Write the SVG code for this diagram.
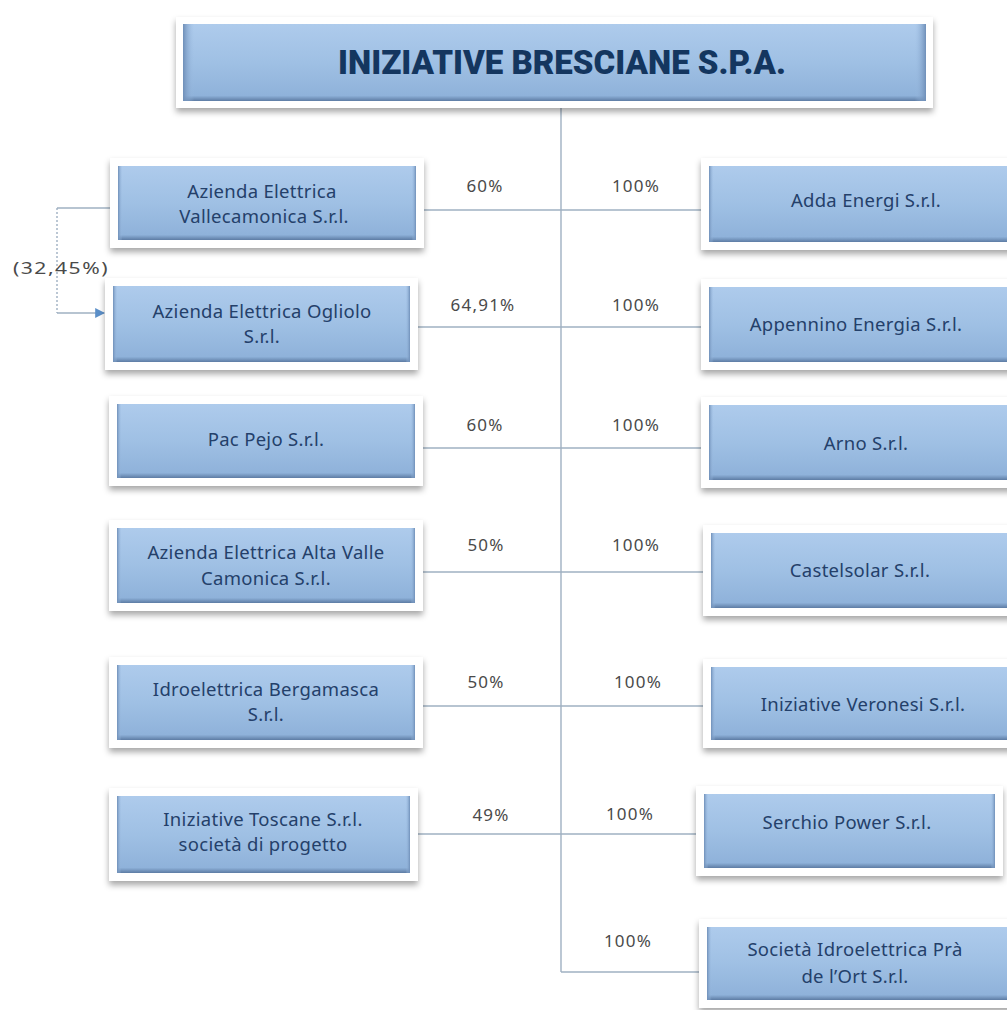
<svg xmlns="http://www.w3.org/2000/svg" width="1007" height="1010" viewBox="0 0 1007 1010">
<defs>
<linearGradient id="blue" x1="0" y1="0" x2="0" y2="1">
<stop offset="0" stop-color="#aecbec"/>
<stop offset="0.5" stop-color="#9fc0e4"/>
<stop offset="0.93" stop-color="#8fb2da"/>
<stop offset="1" stop-color="#5d7ca4"/>
</linearGradient>
<linearGradient id="side" x1="0" y1="0" x2="1" y2="0">
<stop offset="0" stop-color="#6f8fb8"/>
<stop offset="0.015" stop-color="#9dbde2" stop-opacity="0"/>
<stop offset="0.985" stop-color="#9dbde2" stop-opacity="0"/>
<stop offset="1" stop-color="#6f8fb8"/>
</linearGradient>
<filter id="sh" x="-10%" y="-20%" width="120%" height="150%">
<feDropShadow dx="0" dy="4" stdDeviation="3" flood-color="#000" flood-opacity="0.35"/>
</filter>
<marker id="arr" viewBox="0 0 10 10" refX="9" refY="5" markerWidth="7" markerHeight="7" orient="auto">
<path d="M0,0 L10,5 L0,10 z" fill="#5b8fc8"/>
</marker>
<style>
.frame{fill:#ffffff;filter:url(#sh)}
.box{fill:url(#blue)}
.bev{fill:url(#side)}
.t{font-family:"Noto Sans","Open Sans",sans-serif;font-size:18.5px;letter-spacing:0.3px;fill:#24406a;text-anchor:middle}
.p{font-family:"Noto Sans","Open Sans",sans-serif;font-size:17px;letter-spacing:1.2px;fill:#4a4a4a;text-anchor:middle}
.c{stroke:#9fb0c2;stroke-width:1.4;fill:none}
</style>
</defs>
<rect width="1007" height="1010" fill="#ffffff"/>

<g id="connectors">
<line class="c" x1="561" y1="107" x2="561" y2="972"/>
<line class="c" x1="424" y1="210" x2="702" y2="210"/>
<line class="c" x1="418" y1="327" x2="702" y2="327"/>
<line class="c" x1="423" y1="448" x2="702" y2="448"/>
<line class="c" x1="423" y1="572" x2="704" y2="572"/>
<line class="c" x1="423" y1="706" x2="704" y2="706"/>
<line class="c" x1="418" y1="834" x2="697" y2="834"/>
<line class="c" x1="561" y1="972" x2="700" y2="972"/>
<polyline class="c" points="110,208 57,208"/>
<line x1="57" y1="208" x2="57" y2="313" stroke="#9fb0c2" stroke-width="1.4" stroke-dasharray="2,2"/>
<line x1="57" y1="313" x2="104" y2="313" stroke="#9fb0c2" stroke-width="1.4" marker-end="url(#arr)"/>
</g>

<g id="labels">
<text class="p" x="61" y="274" textLength="96" lengthAdjust="spacingAndGlyphs">(32,45%)</text>
<text class="p" x="485" y="192">60%</text>
<text class="p" x="636" y="192">100%</text>
<text class="p" x="483" y="311">64,91%</text>
<text class="p" x="636" y="311">100%</text>
<text class="p" x="485" y="431">60%</text>
<text class="p" x="636" y="431">100%</text>
<text class="p" x="486" y="551">50%</text>
<text class="p" x="636" y="551">100%</text>
<text class="p" x="486" y="688">50%</text>
<text class="p" x="638" y="688">100%</text>
<text class="p" x="491" y="821">49%</text>
<text class="p" x="630" y="820">100%</text>
<text class="p" x="628" y="947">100%</text>
</g>

<g id="n-root">
<rect class="frame" x="176" y="17" width="757" height="91"/>
<rect class="box" x="183" y="24" width="743" height="77"/>
<rect class="bev" x="183" y="24" width="743" height="77"/>
<text x="562" y="74" font-family="Roboto,'Noto Sans',sans-serif" font-size="33" font-weight="900" fill="#14365f" text-anchor="middle" textLength="448" lengthAdjust="spacingAndGlyphs">INIZIATIVE BRESCIANE S.P.A.</text>
</g>

<g id="n-vallecamonica">
<rect class="frame" x="110" y="158" width="314" height="90"/>
<rect class="box" x="118" y="166" width="298" height="74"/>
<rect class="bev" x="118" y="166" width="298" height="74"/>
<text class="t" x="262" y="198">Azienda Elettrica</text>
<text class="t" x="264" y="223">Vallecamonica S.r.l.</text>
</g>

<g id="n-ogliolo">
<rect class="frame" x="105" y="278" width="313" height="92"/>
<rect class="box" x="113" y="286" width="297" height="76"/>
<rect class="bev" x="113" y="286" width="297" height="76"/>
<text class="t" x="262" y="318">Azienda Elettrica Ogliolo</text>
<text class="t" x="262" y="343">S.r.l.</text>
</g>

<g id="n-pejo">
<rect class="frame" x="109" y="396" width="314" height="90"/>
<rect class="box" x="117" y="404" width="298" height="74"/>
<rect class="bev" x="117" y="404" width="298" height="74"/>
<text class="t" x="266" y="446">Pac Pejo S.r.l.</text>
</g>

<g id="n-altavalle">
<rect class="frame" x="109" y="520" width="314" height="91"/>
<rect class="box" x="117" y="528" width="298" height="75"/>
<rect class="bev" x="117" y="528" width="298" height="75"/>
<text class="t" x="266" y="559">Azienda Elettrica Alta Valle</text>
<text class="t" x="266" y="585">Camonica  S.r.l.</text>
</g>

<g id="n-bergamasca">
<rect class="frame" x="109" y="657" width="314" height="91"/>
<rect class="box" x="117" y="665" width="298" height="75"/>
<rect class="bev" x="117" y="665" width="298" height="75"/>
<text class="t" x="266" y="696">Idroelettrica Bergamasca</text>
<text class="t" x="266" y="721">S.r.l.</text>
</g>

<g id="n-toscane">
<rect class="frame" x="109" y="788" width="309" height="93"/>
<rect class="box" x="117" y="796" width="293" height="77"/>
<rect class="bev" x="117" y="796" width="293" height="77"/>
<text class="t" x="263" y="826">Iniziative Toscane S.r.l.</text>
<text class="t" x="263" y="851">società di progetto</text>
</g>

<g id="n-adda">
<rect class="frame" x="701" y="158" width="320" height="92"/>
<rect class="box" x="709" y="166" width="310" height="76"/>
<rect class="bev" x="709" y="166" width="310" height="76"/>
<text class="t" x="866" y="207">Adda Energi S.r.l.</text>
</g>

<g id="n-appennino">
<rect class="frame" x="701" y="279" width="320" height="91"/>
<rect class="box" x="709" y="287" width="310" height="75"/>
<rect class="bev" x="709" y="287" width="310" height="75"/>
<text class="t" x="856" y="331">Appennino Energia S.r.l.</text>
</g>

<g id="n-arno">
<rect class="frame" x="701" y="397" width="320" height="91"/>
<rect class="box" x="709" y="405" width="310" height="75"/>
<rect class="bev" x="709" y="405" width="310" height="75"/>
<text class="t" x="866" y="450">Arno S.r.l.</text>
</g>

<g id="n-castelsolar">
<rect class="frame" x="703" y="525" width="320" height="91"/>
<rect class="box" x="711" y="533" width="310" height="75"/>
<rect class="bev" x="711" y="533" width="310" height="75"/>
<text class="t" x="860" y="577">Castelsolar S.r.l.</text>
</g>

<g id="n-veronesi">
<rect class="frame" x="703" y="659" width="320" height="89"/>
<rect class="box" x="711" y="667" width="310" height="73"/>
<rect class="bev" x="711" y="667" width="310" height="73"/>
<text class="t" x="863" y="711">Iniziative Veronesi S.r.l.</text>
</g>

<g id="n-serchio">
<rect class="frame" x="696" y="786" width="307" height="90"/>
<rect class="box" x="704" y="794" width="291" height="74"/>
<rect class="bev" x="704" y="794" width="291" height="74"/>
<text class="t" x="847" y="829">Serchio Power S.r.l.</text>
</g>

<g id="n-pra">
<rect class="frame" x="699" y="919" width="320" height="89"/>
<rect class="box" x="707" y="927" width="310" height="73"/>
<rect class="bev" x="707" y="927" width="310" height="73"/>
<text class="t" x="855" y="956">Società Idroelettrica Prà</text>
<text class="t" x="855" y="983">de l’Ort S.r.l.</text>
</g>
</svg>
